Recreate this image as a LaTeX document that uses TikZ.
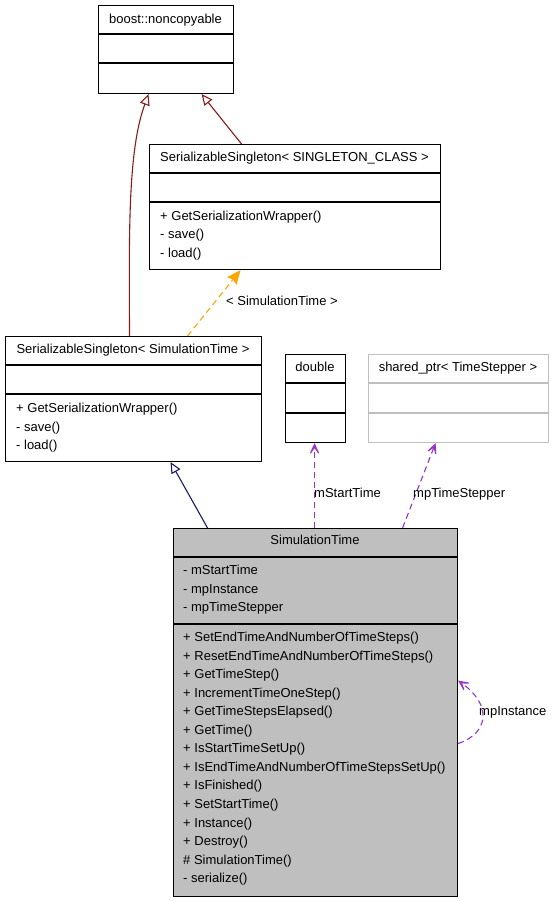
\documentclass[tikz,border=0pt]{standalone}
\usepackage{fontspec}
\setmainfont{Liberation Sans}
\usetikzlibrary{arrows.meta}
\definecolor{firebrick}{HTML}{8B1A1A}
\definecolor{midnight}{HTML}{191970}
\definecolor{orangeA}{HTML}{FFA500}
\definecolor{orchid}{HTML}{9A32CD}
\definecolor{greyA}{HTML}{BFBFBF}
\begin{document}
\begin{tikzpicture}[x=1pt,y=-1pt,font=\fontsize{13}{15}\selectfont,
  box/.style={draw=black,line width=1.1pt,rectangle,inner sep=0pt,anchor=north west},
  divider/.style={line width=1.1pt},
  txt/.style={anchor=base west,inner sep=0pt},
  ttl/.style={anchor=base,inner sep=0pt},
  inh/.style={line width=1.1pt,-{Triangle[open,length=11pt,width=10pt]}},
  usage/.style={line width=1.1pt,orchid,dash pattern=on 6pt off 4pt,-{Stealth[length=16pt,width=15pt,inset=11pt]}},
  tmpl/.style={line width=1.1pt,orangeA,dash pattern=on 6pt off 4pt,-{Stealth[length=14pt,width=12pt,inset=2pt]}}]
\useasboundingbox (0,0) rectangle (553,901);

% boost::noncopyable
\node[box,minimum width=135pt,minimum height=88pt] (nc) at (98,5) {};
\draw[divider] (nc.west |- 0,34) -- (nc.east |- 0,34);
\draw[divider] (nc.west |- 0,63) -- (nc.east |- 0,63);
\node[ttl] (nct) at (165.5,24) {boost::noncopyable};

% SerializableSingleton< SINGLETON_CLASS >
\node[box,minimum width=291pt,minimum height=125pt] (sst) at (149,144) {};
\draw[divider] (sst.west |- 0,173) -- (sst.east |- 0,173);
\draw[divider] (sst.west |- 0,202) -- (sst.east |- 0,202);
\node[ttl] (sstt) at (294.5,161.5) {SerializableSingleton< SINGLETON\_CLASS >};
\node[txt] (sstm1) at (160,220.5) {+ GetSerializationWrapper()};
\node[txt] (sstm2) at (160,239) {- save()};
\node[txt] (sstm3) at (160,257.5) {- load()};

% SerializableSingleton< SimulationTime >
\node[box,minimum width=256pt,minimum height=125pt] (ssim) at (5,336) {};
\draw[divider] (ssim.west |- 0,365) -- (ssim.east |- 0,365);
\draw[divider] (ssim.west |- 0,394) -- (ssim.east |- 0,394);
\node[ttl] (ssimt) at (133,353) {SerializableSingleton< SimulationTime >};
\node[txt] (ssimm1) at (16,412.5) {+ GetSerializationWrapper()};
\node[txt] (ssimm2) at (16,431) {- save()};
\node[txt] (ssimm3) at (16,449.5) {- load()};

% double
\node[box,minimum width=60pt,minimum height=88pt] (dbl) at (285,354) {};
\draw[divider] (dbl.west |- 0,383) -- (dbl.east |- 0,383);
\draw[divider] (dbl.west |- 0,413) -- (dbl.east |- 0,413);
\node[ttl] (dblt) at (315,371.5) {double};

% shared_ptr< TimeStepper >
\node[box,draw=greyA,minimum width=180pt,minimum height=88pt] (sp) at (368,354) {};
\draw[divider,greyA] (sp.west |- 0,383) -- (sp.east |- 0,383);
\draw[divider,greyA] (sp.west |- 0,413) -- (sp.east |- 0,413);
\node[ttl] (spt) at (458,371.5) {shared\_ptr< TimeStepper >};

% SimulationTime
\node[box,fill=greyA,minimum width=284pt,minimum height=368pt] (st) at (173,528) {};
\draw[divider] (st.west |- 0,557) -- (st.east |- 0,557);
\draw[divider] (st.west |- 0,624) -- (st.east |- 0,624);
\node[ttl] (stt) at (315,544.5) {SimulationTime};
\node[txt] (sta1) at (183,574.5) {- mStartTime};
\node[txt] (sta2) at (183,593) {- mpInstance};
\node[txt] (sta3) at (183,611.5) {- mpTimeStepper};
\foreach \t [count=\i from 0] in {{+ SetEndTimeAndNumberOfTimeSteps()},{+ ResetEndTimeAndNumberOfTimeSteps()},{+ GetTimeStep()},{+ IncrementTimeOneStep()},{+ GetTimeStepsElapsed()},{+ GetTime()},{+ IsStartTimeSetUp()},{+ IsEndTimeAndNumberOfTimeStepsSetUp()},{+ IsFinished()},{+ SetStartTime()},{+ Instance()},{+ Destroy()},{\# SimulationTime()},{- serialize()}}
  \node[txt] (stm\i) at (183,641.5+18.55*\i) {\t};

% connectors
\draw[inh,firebrick] ([xshift=-4pt]ssim.north) .. controls (129,230) and (128,150) .. ([xshift=-17.5pt]nc.south);
\draw[inh,firebrick] ([xshift=-53.5pt]sst.north) -- ([xshift=35.5pt]nc.south);
\draw[tmpl] ([xshift=54pt]ssim.north) -- ([xshift=-54.5pt]sst.south);
\node[txt] (tl) at (226,305) {< SimulationTime >};
\draw[inh,midnight] ([xshift=-108pt]st.north) -- ([xshift=37pt]ssim.south);
\draw[usage] ([xshift=-1pt]st.north) -- ([xshift=-1pt]dbl.south);
\node[txt] (l1) at (314,497) {mStartTime};
\draw[usage] ([xshift=87pt]st.north) -- ([xshift=-23pt]sp.south);
\node[txt] (l2) at (413,497) {mpTimeStepper};
\draw[usage] ([yshift=-31pt]st.east) .. controls +(30,-10) and +(35,25) .. ([yshift=32pt]st.east);
\node[txt] (l3) at (479,715.5) {mpInstance};
\end{tikzpicture}
\end{document}
